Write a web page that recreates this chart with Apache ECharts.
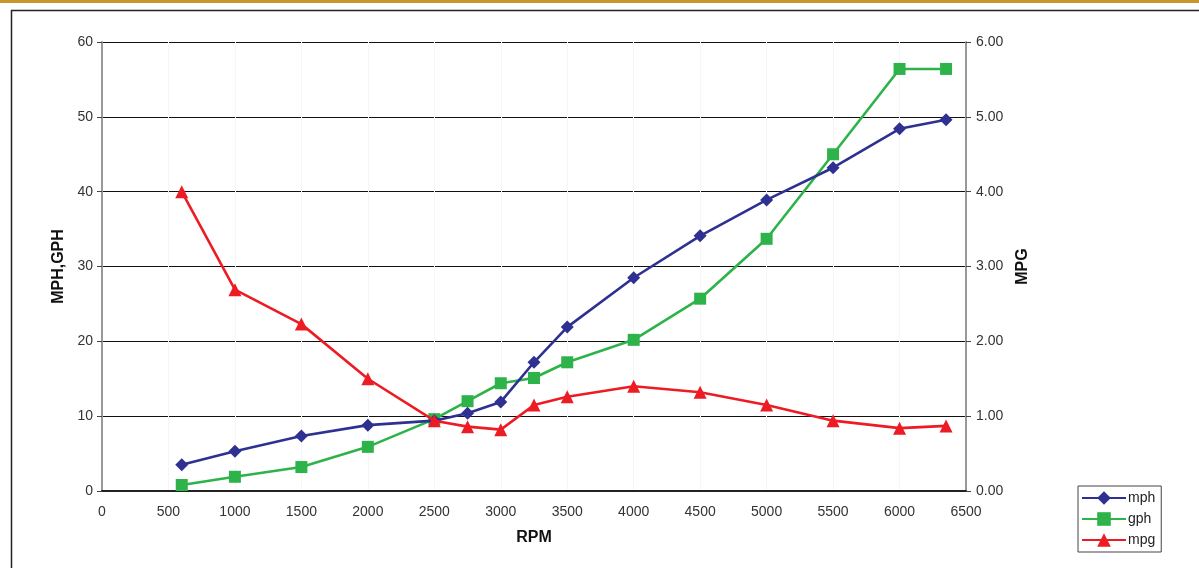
<!DOCTYPE html>
<html><head><meta charset="utf-8">
<script src="https://cdn.jsdelivr.net/npm/echarts@6/dist/echarts.min.js"></script>
<style>html,body{margin:0;padding:0;background:#fff}#c{width:1199px;height:568px}</style>
</head><body><div id="c"></div>
<script>
const rpm = [600,1000,1500,2000,2500,2750,3000,3250,3500,4000,4500,5000,5500,6000,6350];
const mph = [3.5,5.3,7.35,8.8,9.4,10.4,11.9,17.2,21.9,28.5,34.1,38.9,43.2,48.4,49.6];
const gph = [0.8,1.9,3.2,5.9,9.6,12.0,14.4,15.1,17.2,20.2,25.7,33.7,45.0,56.4,56.4];
const mpg = [4.0,2.69,2.23,1.50,0.94,0.86,0.82,1.15,1.26,1.40,1.32,1.15,0.94,0.84,0.87];
const pair = (xs, ys) => xs.map((x, i) => [x, ys[i]]);
const F = 'Liberation Sans, Arial, sans-serif';
const chart = echarts.init(document.getElementById('c'));
chart.setOption({
  animation: false,
  backgroundColor: '#fff',
  grid: {left: 102, right: 233, top: 42, bottom: 77},
  graphic: [
    {type: 'rect', shape: {x: 0, y: 0, width: 1199, height: 3}, style: {fill: '#c8962e'}, silent: true},
    {type: 'polyline', shape: {points: [[11.5, 568], [11.5, 10.5], [1199, 10.5]]}, style: {stroke: '#222', lineWidth: 1.5, fill: null}, silent: true}
  ],
  legend: {
    orient: 'vertical', left: 1078, top: 486,
    itemWidth: 44, itemHeight: 17, itemGap: 7,
    padding: [5, 6, 5, 3],
    borderColor: '#444', borderWidth: 1,
    textStyle: {fontFamily: F, fontSize: 14, color: '#222', padding: [0, 0, 0, -3]},
    data: ['mph', 'gph', 'mpg']
  },
  xAxis: {
    type: 'value', min: 0, max: 6500, interval: 500,
    name: 'RPM', nameLocation: 'middle', nameGap: 39,
    nameTextStyle: {fontFamily: F, fontSize: 16, fontWeight: 'bold', color: '#111'},
    axisLine: {lineStyle: {color: '#222', width: 2}},
    axisTick: {show: false},
    axisLabel: {fontFamily: F, fontSize: 14, color: '#333', margin: 14, formatter: v => String(v)},
    splitLine: {show: true, lineStyle: {color: '#f6f6f6', width: 1}}
  },
  yAxis: [
    {
      type: 'value', min: 0, max: 60, interval: 10,
      name: 'MPH,GPH', nameLocation: 'middle', nameGap: 29, nameRotate: 90,
      nameTextStyle: {fontFamily: F, fontSize: 16, fontWeight: 'bold', color: '#111'},
      axisLine: {show: true, lineStyle: {color: '#999', width: 2}},
      axisTick: {show: true, length: 5, lineStyle: {color: '#444'}},
      axisLabel: {fontFamily: F, fontSize: 14, color: '#333', margin: 9},
      splitLine: {show: true, lineStyle: {color: '#111', width: 1}}
    },
    {
      type: 'value', min: 0, max: 6, interval: 1,
      name: 'MPG', nameLocation: 'middle', nameGap: 45, nameRotate: 90,
      nameTextStyle: {fontFamily: F, fontSize: 16, fontWeight: 'bold', color: '#111'},
      axisLine: {show: true, lineStyle: {color: '#999', width: 2}},
      axisTick: {show: true, length: 5, lineStyle: {color: '#444'}},
      axisLabel: {fontFamily: F, fontSize: 14, color: '#333', margin: 10, formatter: v => v.toFixed(2)},
      splitLine: {show: false}
    }
  ],
  series: [
    {name: 'mph', type: 'line', yAxisIndex: 0, data: pair(rpm, mph), symbol: 'diamond', symbolSize: 13,
     lineStyle: {color: '#2e3192', width: 2.6}, itemStyle: {color: '#2e3192'}, z: 4},
    {name: 'gph', type: 'line', yAxisIndex: 0, data: pair(rpm, gph), symbol: 'rect', symbolSize: 12,
     lineStyle: {color: '#2db34a', width: 2.6}, itemStyle: {color: '#2db34a'}, z: 3},
    {name: 'mpg', type: 'line', yAxisIndex: 1, data: pair(rpm, mpg), symbol: 'triangle', symbolSize: 13,
     lineStyle: {color: '#ed1c24', width: 2.6}, itemStyle: {color: '#ed1c24'}, z: 5}
  ]
});
</script></body></html>
